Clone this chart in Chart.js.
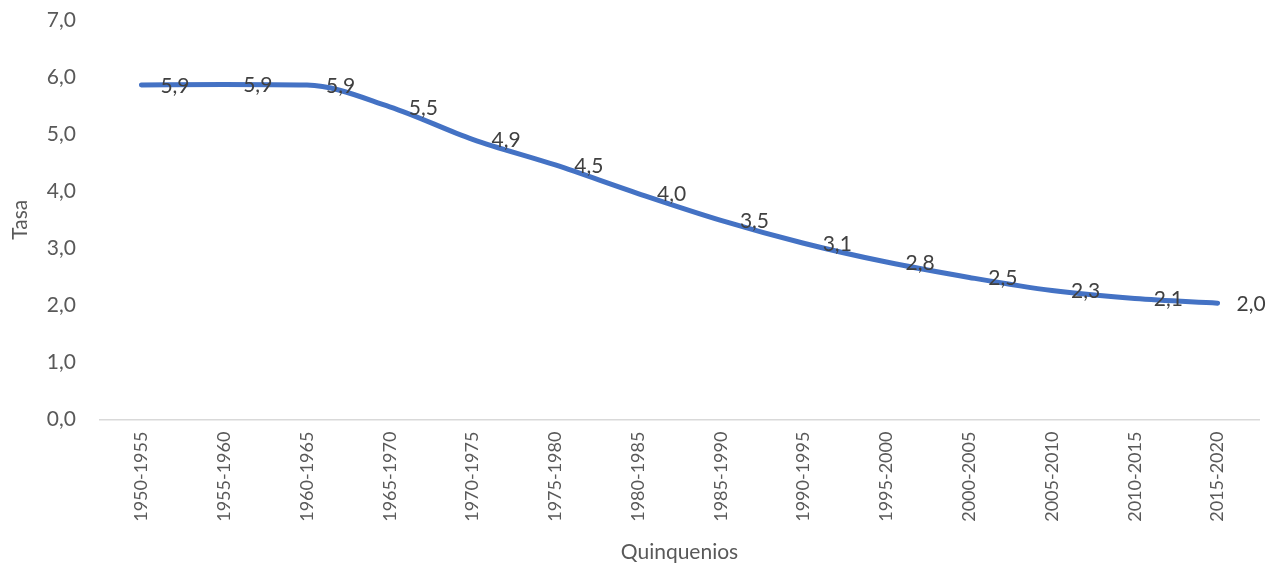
<!DOCTYPE html>
<html>
<head>
<meta charset="utf-8">
<script src="https://cdn.jsdelivr.net/npm/chart.js@4/dist/chart.umd.min.js"></script>
<style>
  html, body { margin: 0; padding: 0; background: #ffffff; }
  #wrap { width: 1281px; height: 565px; position: relative; }
</style>
</head>
<body>
<div id="wrap"><canvas id="c"></canvas></div>
<script>
// Quinquenios (five-year periods)
const categories = [
  '1950-1955', '1955-1960', '1960-1965', '1965-1970', '1970-1975',
  '1975-1980', '1980-1985', '1985-1990', '1990-1995', '1995-2000',
  '2000-2005', '2005-2010', '2010-2015', '2015-2020'
];

// Tasa per period
const tasa = [5.86, 5.87, 5.86, 5.48, 4.91, 4.46, 3.96, 3.49, 3.09, 2.76, 2.49, 2.26, 2.12, 2.04];

// Value axis
const yMin = 0;
const yMax = 7;
const yStep = 1;

const fontFamily = 'Lato, "Open Sans", "DejaVu Sans", sans-serif';
const fmt = v => v.toFixed(1).replace('.', ',');

// Value labels drawn to the right of each point
const valueLabels = {
  id: 'valueLabels',
  afterDatasetsDraw(chart) {
    const ctx = chart.ctx;
    const meta = chart.getDatasetMeta(0);
    ctx.save();
    ctx.font = '21px ' + fontFamily;
    ctx.fillStyle = '#404040';
    ctx.textAlign = 'left';
    ctx.textBaseline = 'middle';
    meta.data.forEach((pt, i) => {
      ctx.fillText(fmt(tasa[i]), pt.x + 19, pt.y + 1);
    });
    ctx.restore();
  }
};

new Chart(document.getElementById('c'), {
  type: 'line',
  data: {
    labels: categories,
    datasets: [{
      label: 'Tasa',
      data: tasa,
      borderColor: '#4472C4',
      borderWidth: 5,
      borderCapStyle: 'round',
      borderJoinStyle: 'round',
      pointRadius: 0,
      pointHoverRadius: 0,
      cubicInterpolationMode: 'monotone',
      fill: false
    }]
  },
  options: {
    responsive: true,
    maintainAspectRatio: false,
    animation: false,
    events: [],
    layout: { padding: { top: 20, right: 22, bottom: 0, left: 0 } },
    plugins: {
      legend: { display: false },
      tooltip: { enabled: false }
    },
    scales: {
      x: {
        offset: true,
        grid: { display: false, drawTicks: false },
        border: { display: true, color: '#d9d9d9', width: 1.5 },
        ticks: {
          autoSkip: false,
          maxRotation: 90,
          minRotation: 90,
          padding: 12,
          color: '#595959',
          font: { family: fontFamily, size: 18 }
        },
        title: {
          display: true,
          text: 'Quinquenios',
          color: '#595959',
          font: { family: fontFamily, size: 21 },
          padding: { top: 6, bottom: 0 }
        }
      },
      y: {
        min: yMin,
        max: yMax,
        grid: { display: false, drawTicks: false },
        border: { display: false },
        ticks: {
          stepSize: yStep,
          padding: 24,
          color: '#595959',
          font: { family: fontFamily, size: 21 },
          callback: v => fmt(v)
        },
        title: {
          display: true,
          text: 'Tasa',
          color: '#595959',
          font: { family: fontFamily, size: 21 },
          padding: { top: 8, bottom: 0 }
        },
        afterFit: s => {
          s.width = 100;
          s.paddingTop = 0;
          s.paddingBottom = 0;
        }
      }
    }
  },
  plugins: [valueLabels]
});
</script>
</body>
</html>
